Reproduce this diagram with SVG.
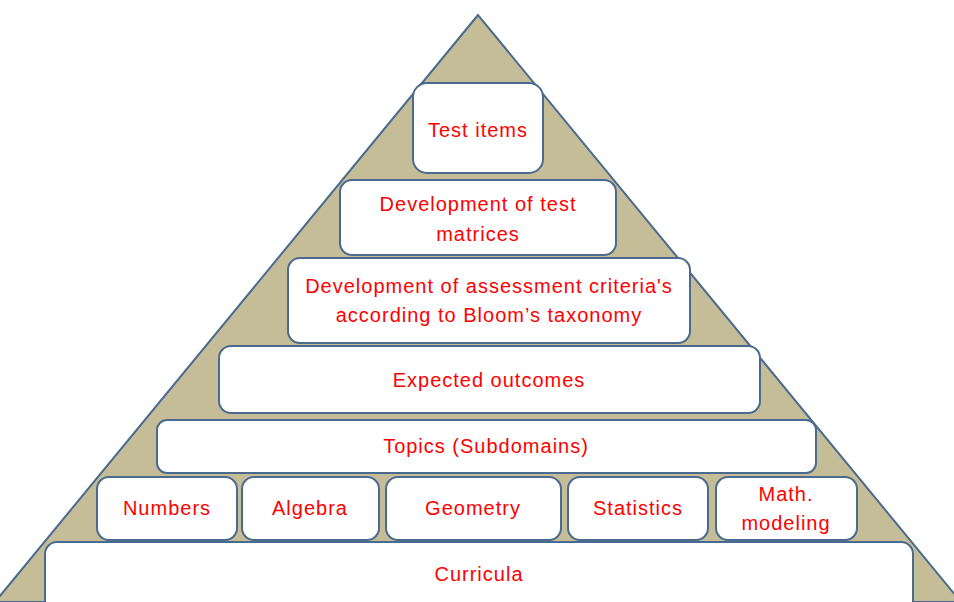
<svg xmlns="http://www.w3.org/2000/svg" width="954" height="602" viewBox="0 0 954 602">
<style>
.box{fill:#fff;stroke:#4a6a8f;stroke-width:2}
.t{font-family:"Liberation Sans",Arial,sans-serif;font-size:20px;fill:#ff0000;text-anchor:middle;letter-spacing:1px}
</style>
<rect width="954" height="602" fill="#fff"/>
<g id="pyramid"><polygon points="478,15 -5,602 961,602" fill="#c4bd97" stroke="#4a6a8f" stroke-width="2"/></g>
<g id="connectors"></g>
<g id="test-items"><rect class="box" x="413" y="83" width="130" height="90" rx="14"/><text class="t" x="478" y="137">Test items</text></g>
<g id="test-matrices"><rect class="box" x="340" y="180" width="276" height="75" rx="12"/><text class="t" x="478" y="211">Development of test</text><text class="t" x="478" y="241">matrices</text></g>
<g id="assessment"><rect class="box" x="288" y="258" width="402" height="85" rx="12"/><text class="t" x="489" y="293">Development of assessment criteria's</text><text class="t" x="489" y="322">according to Bloom’s taxonomy</text></g>
<g id="outcomes"><rect class="box" x="219" y="346" width="541" height="67" rx="12"/><text class="t" x="489" y="387">Expected outcomes</text></g>
<g id="topics"><rect class="box" x="157" y="420" width="659" height="53" rx="10"/><text class="t" x="486" y="453">Topics (Subdomains)</text></g>
<g id="numbers"><rect class="box" x="97" y="477" width="140" height="63" rx="12"/><text class="t" x="167" y="515">Numbers</text></g>
<g id="algebra"><rect class="box" x="242" y="477" width="137" height="63" rx="12"/><text class="t" x="310" y="515">Algebra</text></g>
<g id="geometry"><rect class="box" x="386" y="477" width="175" height="63" rx="12"/><text class="t" x="473" y="515">Geometry</text></g>
<g id="statistics"><rect class="box" x="568" y="477" width="140" height="63" rx="12"/><text class="t" x="638" y="515">Statistics</text></g>
<g id="modeling"><rect class="box" x="716" y="477" width="141" height="63" rx="12"/><text class="t" x="786" y="501">Math.</text><text class="t" x="786" y="530">modeling</text></g>
<g id="curricula"><rect class="box" x="45" y="542" width="868" height="75" rx="12"/><text class="t" x="479" y="581">Curricula</text></g>
</svg>
